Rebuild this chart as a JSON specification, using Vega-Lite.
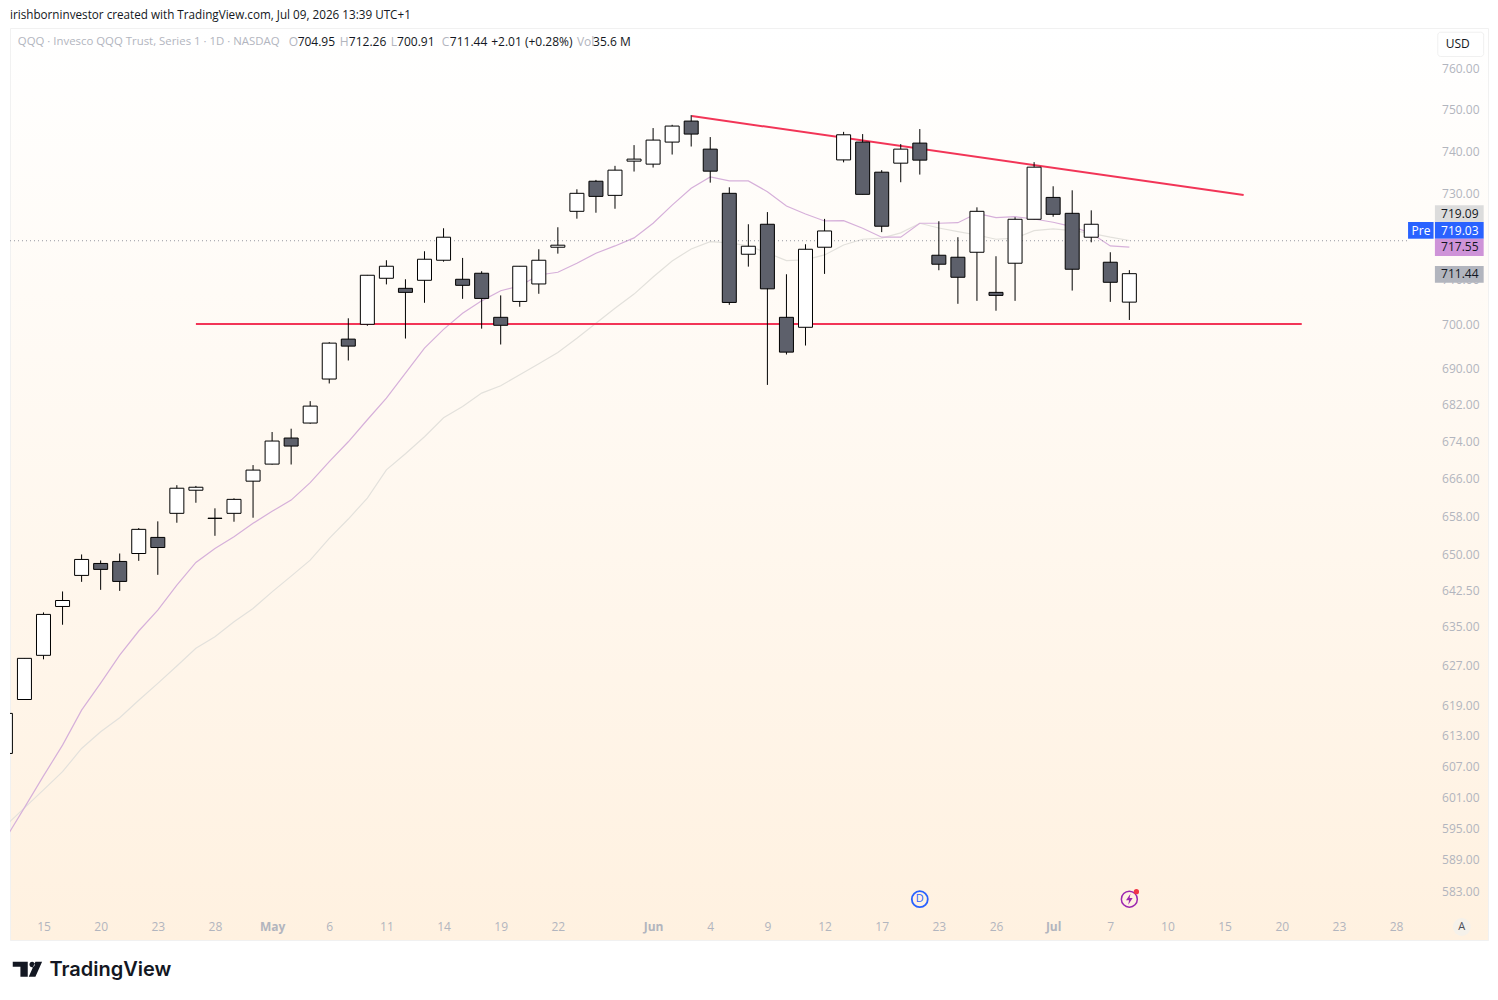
{"$schema":"https://vega.github.io/schema/vega-lite/v6.json","width":1478,"height":912,"autosize":"none","padding":{"left":10,"top":28,"right":10,"bottom":60},"background":"#ffffff","view":{"stroke":"#f1f1f1","fill":{"gradient":"linear","x1":0,"y1":0,"x2":0,"y2":1,"stops":[{"offset":0,"color":"#ffffff"},{"offset":1,"color":"#fff1e0"}]}},"title":{"text":"irishborninvestor created with TradingView.com, Jul 09, 2026 13:39 UTC+1","anchor":"start","frame":"group","offset":6,"font":"Open Sans","fontSize":11.7,"fontWeight":"normal","color":"#131722"},"config":{"font":"Open Sans","axis":{"grid":false,"domain":false,"ticks":false}},"datasets":{"candles":[
{"i":0,"date":"2026-04-13","open":609.56,"high":617.47,"low":609.56,"close":617.47,"fast":593.01,"slow":595.5},
{"i":1,"date":"2026-04-14","open":620.24,"high":628.52,"low":620.24,"close":628.52,"fast":599.02,"slow":598.96},
{"i":2,"date":"2026-04-15","open":629.13,"high":637.89,"low":628.32,"close":637.48,"fast":605.16,"slow":602.44},
{"i":3,"date":"2026-04-16","open":639.11,"high":642.21,"low":635.36,"close":640.34,"fast":611.19,"slow":605.99},
{"i":4,"date":"2026-04-17","open":645.54,"high":649.91,"low":644.2,"close":648.87,"fast":618.12,"slow":610.54},
{"i":5,"date":"2026-04-20","open":648.03,"high":648.66,"low":642.54,"close":646.79,"fast":623.53,"slow":613.82},
{"i":6,"date":"2026-04-21","open":648.45,"high":650.11,"low":642.33,"close":644.29,"fast":629.19,"slow":616.6},
{"i":7,"date":"2026-04-22","open":650.11,"high":655.46,"low":648.57,"close":655.19,"fast":634.08,"slow":620.1},
{"i":8,"date":"2026-04-23","open":653.49,"high":656.88,"low":645.66,"close":651.37,"fast":638.36,"slow":623.47},
{"i":9,"date":"2026-04-24","open":658.58,"high":664.58,"low":656.59,"close":663.93,"fast":643.52,"slow":626.97},
{"i":10,"date":"2026-04-27","open":663.5,"high":664.42,"low":660.83,"close":664.14,"fast":648.24,"slow":630.55},
{"i":11,"date":"2026-04-28","open":657.5,"high":659.64,"low":653.83,"close":657.55,"fast":651.16,"slow":632.91},
{"i":12,"date":"2026-04-29","open":658.58,"high":661.77,"low":656.8,"close":661.55,"fast":653.62,"slow":635.97},
{"i":13,"date":"2026-04-30","open":665.44,"high":668.9,"low":657.65,"close":667.82,"fast":656.46,"slow":638.71},
{"i":14,"date":"2026-05-01","open":669.11,"high":676.06,"low":669.0,"close":674.1,"fast":659.0,"slow":642.13},
{"i":15,"date":"2026-05-04","open":674.75,"high":676.78,"low":669.02,"close":673.01,"fast":661.4,"slow":645.39},
{"i":16,"date":"2026-05-05","open":678.02,"high":682.82,"low":677.87,"close":681.73,"fast":665.14,"slow":648.72},
{"i":17,"date":"2026-05-06","open":687.7,"high":695.92,"low":686.72,"close":695.7,"fast":669.65,"slow":653.28},
{"i":18,"date":"2026-05-07","open":696.6,"high":701.29,"low":691.82,"close":695.03,"fast":673.94,"slow":657.37},
{"i":19,"date":"2026-05-08","open":699.93,"high":711.15,"low":699.6,"close":711.08,"fast":678.74,"slow":661.83},
{"i":20,"date":"2026-05-11","open":710.39,"high":714.53,"low":708.99,"close":713.15,"fast":683.48,"slow":667.88},
{"i":21,"date":"2026-05-12","open":708.09,"high":710.16,"low":696.73,"close":707.17,"fast":689.03,"slow":671.33},
{"i":22,"date":"2026-05-13","open":709.93,"high":716.6,"low":704.8,"close":714.76,"fast":694.58,"slow":675.04},
{"i":23,"date":"2026-05-14","open":714.53,"high":721.93,"low":714.2,"close":719.85,"fast":698.8,"slow":679.18},
{"i":24,"date":"2026-05-15","open":710.16,"high":715.06,"low":705.7,"close":708.78,"fast":702.41,"slow":681.64},
{"i":25,"date":"2026-05-18","open":711.54,"high":712.0,"low":698.95,"close":705.79,"fast":705.24,"slow":684.59},
{"i":26,"date":"2026-05-19","open":701.51,"high":706.48,"low":695.39,"close":699.71,"fast":707.54,"slow":686.21},
{"i":27,"date":"2026-05-20","open":705.11,"high":713.2,"low":703.9,"close":713.15,"fast":708.62,"slow":688.65},
{"i":28,"date":"2026-05-21","open":709.09,"high":717.06,"low":706.85,"close":714.53,"fast":711.15,"slow":691.09},
{"i":29,"date":"2026-05-22","open":717.53,"high":722.16,"low":716.05,"close":718.0,"fast":711.77,"slow":693.6},
{"i":30,"date":"2026-05-26","open":725.88,"high":731.05,"low":724.16,"close":730.1,"fast":713.84,"slow":696.79},
{"i":31,"date":"2026-05-27","open":732.95,"high":733.26,"low":725.55,"close":729.38,"fast":716.14,"slow":700.16},
{"i":32,"date":"2026-05-28","open":729.62,"high":736.59,"low":726.48,"close":735.57,"fast":717.83,"slow":703.54},
{"i":33,"date":"2026-05-29","open":737.71,"high":741.53,"low":735.24,"close":738.19,"fast":719.69,"slow":706.78},
{"i":34,"date":"2026-06-01","open":737.0,"high":745.61,"low":736.19,"close":742.73,"fast":723.09,"slow":710.69},
{"i":35,"date":"2026-06-02","open":742.25,"high":746.4,"low":739.28,"close":746.09,"fast":727.34,"slow":714.37},
{"i":36,"date":"2026-06-03","open":747.29,"high":748.73,"low":741.19,"close":744.17,"fast":731.28,"slow":717.13},
{"i":37,"date":"2026-06-04","open":740.57,"high":743.45,"low":732.62,"close":735.33,"fast":733.97,"slow":718.82},
{"i":38,"date":"2026-06-05","open":730.1,"high":731.52,"low":704.34,"close":704.88,"fast":733.02,"slow":718.52},
{"i":39,"date":"2026-06-08","open":715.91,"high":722.86,"low":713.06,"close":717.76,"fast":733.02,"slow":717.83},
{"i":40,"date":"2026-06-09","open":722.86,"high":725.7,"low":686.4,"close":707.98,"fast":730.48,"slow":716.21},
{"i":41,"date":"2026-06-10","open":701.51,"high":711.31,"low":693.16,"close":693.69,"fast":727.11,"slow":714.44},
{"i":42,"date":"2026-06-11","open":699.26,"high":718.22,"low":695.16,"close":717.06,"fast":725.25,"slow":714.6},
{"i":43,"date":"2026-06-12","open":717.53,"high":724.11,"low":711.39,"close":721.3,"fast":723.63,"slow":715.75},
{"i":44,"date":"2026-06-15","open":738.0,"high":744.7,"low":737.42,"close":744.0,"fast":723.7,"slow":718.06},
{"i":45,"date":"2026-06-16","open":742.25,"high":744.17,"low":729.86,"close":729.86,"fast":721.93,"slow":719.38},
{"i":46,"date":"2026-06-17","open":735.09,"high":735.57,"low":721.03,"close":722.4,"fast":719.85,"slow":719.62},
{"i":47,"date":"2026-06-18","open":737.23,"high":741.77,"low":732.71,"close":740.57,"fast":719.85,"slow":720.85},
{"i":48,"date":"2026-06-22","open":742.01,"high":745.37,"low":734.52,"close":737.95,"fast":723.09,"slow":723.09},
{"i":49,"date":"2026-06-23","open":715.68,"high":723.56,"low":712.23,"close":713.61,"fast":723.09,"slow":721.99},
{"i":50,"date":"2026-06-24","open":715.22,"high":719.85,"low":704.57,"close":710.62,"fast":723.23,"slow":721.14},
{"i":51,"date":"2026-06-25","open":716.37,"high":726.81,"low":705.24,"close":725.88,"fast":725.41,"slow":720.37},
{"i":52,"date":"2026-06-26","open":707.17,"high":715.45,"low":703.0,"close":706.48,"fast":724.39,"slow":719.38},
{"i":53,"date":"2026-06-29","open":713.84,"high":724.49,"low":705.24,"close":724.02,"fast":724.63,"slow":719.62},
{"i":54,"date":"2026-06-30","open":724.02,"high":737.47,"low":724.02,"close":736.28,"fast":724.09,"slow":721.37},
{"i":55,"date":"2026-07-01","open":729.14,"high":731.76,"low":724.62,"close":725.18,"fast":723.33,"slow":721.77},
{"i":56,"date":"2026-07-02","open":725.41,"high":730.81,"low":707.58,"close":712.46,"fast":722.31,"slow":721.37},
{"i":57,"date":"2026-07-06","open":719.85,"high":726.11,"low":718.67,"close":722.86,"fast":720.78,"slow":720.76},
{"i":58,"date":"2026-07-07","open":714.07,"high":716.37,"low":705.01,"close":709.47,"fast":717.83,"slow":719.85},
{"i":59,"date":"2026-07-08","open":704.95,"high":712.26,"low":700.91,"close":711.44,"fast":717.55,"slow":719.09}
],
"drawn":[{"id":"support","i":10,"p":700},{"id":"support","i":68.05,"p":700},{"id":"resistance","i":36.03,"p":748.5},{"id":"resistance","i":65.0,"p":729.7}],
"tags":[{"name":"prev","i":75.04,"i1":77.6,"p0":727.29,"p1":723.39},{"name":"pre","i":75.04,"i1":77.6,"p0":723.39,"p1":719.5},{"name":"pre","i":73.63,"i1":74.97,"p0":723.39,"p1":719.5},{"name":"ma","i":75.04,"i1":77.6,"p0":719.5,"p1":715.5},{"name":"last","i":75.04,"i1":77.6,"p0":713.21,"p1":709.38}],
"tagText":[{"t":"719.09","i":77.33,"p":725.3,"kind":"dark"},{"t":"719.03","i":77.33,"p":721.4,"kind":"light"},{"t":"717.55","i":77.33,"p":717.5,"kind":"dark"},{"t":"711.44","i":77.33,"p":711.3,"kind":"dark"}],
"legendText":[{"t":"QQQ · Invesco QQQ Trust, Series 1 · 1D · NASDAQ","i":0.65,"p":766.6,"kind":"name"},{"t":"O","i":14.87,"p":766.6,"kind":"label"},{"t":"704.95","i":15.34,"p":766.6,"kind":"value"},{"t":"H","i":17.55,"p":766.6,"kind":"label"},{"t":"712.26","i":18.03,"p":766.6,"kind":"value"},{"t":"L","i":20.23,"p":766.6,"kind":"label"},{"t":"700.91","i":20.56,"p":766.6,"kind":"value"},{"t":"C","i":22.9,"p":766.6,"kind":"label"},{"t":"711.44","i":23.33,"p":766.6,"kind":"value"},{"t":"+2.01 (+0.28%)","i":25.5,"p":766.6,"kind":"value"},{"t":"Vol","i":30.0,"p":766.6,"kind":"label"},{"t":"35.6 M","i":30.85,"p":766.6,"kind":"value"}]
},"encoding":{"x":{"field":"i","type":"quantitative","scale":{"domain":[0.2415,77.827],"nice":false,"zero":false,"padding":0},"axis":{"orient":"bottom","values":[2,5,8,11,14,17,20,23,26,29,34,37,40,43,46,49,52,55,58,61,64,67,70,73],"labelExpr":"({'2':'15','5':'20','8':'23','11':'28','14':'May','17':'6','20':'11','23':'14','26':'19','29':'22','34':'Jun','37':'4','40':'9','43':'12','46':'17','49':'23','52':'26','55':'Jul','58':'7','61':'10','64':'15','67':'20','70':'23','73':'28'})[datum.value]","labelBaseline":"middle","labelPadding":-14,"labelFontSize":12,"labelColor":"#b2b5be","labelOverlap":false,"labelBound":false,"labelFlush":false,"labelFontWeight":{"condition":{"test":"datum.value==14||datum.value==34||datum.value==55","value":"bold"},"value":"normal"},"title":"TradingView","titleAnchor":"start","titleAlign":"left","titleX":39,"titleY":35,"titleBaseline":"alphabetic","titleFont":"Inter","titleFontSize":20,"titleFontWeight":600,"titleColor":"#131722"}}},"layer":[
{"data":{"name":"candles"},"mark":{"type":"line","clip":true,"color":"#e3e1dc","strokeWidth":1.2},"encoding":{"y":{"field":"slow","type":"quantitative","scale":{"type":"log","domain":[574,770.04],"nice":false,"zero":false},"axis":{"orient":"right","values":[583,589,595,601,607,613,619,627,635,642.5,650,658,666,674,682,690,700,710,730,740,750,760],"format":".2f","labelAlign":"right","labelPadding":-9,"labelFontSize":12,"labelColor":"#b2b5be","labelOverlap":false,"labelBound":false,"labelFlush":false,"title":null}}}},
{"data":{"name":"candles"},"mark":{"type":"line","clip":true,"color":"#d6b0da","strokeWidth":1.2},"encoding":{"y":{"field":"fast","type":"quantitative"}}},
{"data":{"values":[{"i":0.2415,"i1":73.63,"p":719.03}]},"mark":{"type":"rule","strokeDash":[1,3],"color":"#9598a1","strokeWidth":1},"encoding":{"x2":{"field":"i1"},"y":{"field":"p","type":"quantitative"}}},
{"data":{"name":"drawn"},"mark":{"type":"line","color":"#f23557","strokeWidth":2},"encoding":{"y":{"field":"p","type":"quantitative"},"detail":{"field":"id"}}},
{"data":{"name":"candles"},"mark":{"type":"rule","clip":true,"color":"#000000","strokeWidth":1},"encoding":{"y":{"field":"low","type":"quantitative"},"y2":{"field":"high"}}},
{"data":{"name":"candles"},"mark":{"type":"bar","clip":true,"size":14,"stroke":"#000000","strokeWidth":1,"orient":"vertical"},"encoding":{"y":{"field":"open","type":"quantitative"},"y2":{"field":"close"},"fill":{"condition":{"test":"datum.close<datum.open","value":"#5d606b"},"value":"#ffffff"}}},
{"data":{"values":[{"i":48.0,"p":581.6}]},"mark":{"type":"point","shape":"circle","size":254,"filled":false,"stroke":"#2962ff","strokeWidth":1.8,"opacity":1},"encoding":{"y":{"field":"p","type":"quantitative"}}},
{"data":{"values":[{"i":48.0,"p":581.6,"t":"D"}]},"mark":{"type":"text","fontSize":11,"color":"#2962ff","align":"center","baseline":"middle"},"encoding":{"y":{"field":"p","type":"quantitative"},"text":{"field":"t"}}},
{"data":{"values":[{"i":59.0,"p":581.6}]},"mark":{"type":"point","shape":"circle","size":254,"filled":false,"stroke":"#9c27b0","strokeWidth":1.5,"opacity":1},"encoding":{"y":{"field":"p","type":"quantitative"}}},
{"data":{"values":[{"i":59.0,"p":581.6}]},"mark":{"type":"point","filled":true,"fill":"#9c27b0","size":121,"opacity":1,"stroke":null,"shape":"M0.2 -1L-0.6 0.2L-0.05 0.2L-0.2 1L0.6 -0.2L0.05 -0.2Z"},"encoding":{"y":{"field":"p","type":"quantitative"}}},
{"data":{"values":[{"i":59.37,"p":583.0}]},"mark":{"type":"point","shape":"circle","filled":true,"fill":"#f23645","size":28,"opacity":1},"encoding":{"y":{"field":"p","type":"quantitative"}}},
{"data":{"values":[{"i":76.45,"p":576.4}]},"mark":{"type":"point","shape":"circle","filled":true,"fill":"#f5f1ea","size":320,"opacity":1},"encoding":{"y":{"field":"p","type":"quantitative"}}},
{"data":{"values":[{"i":76.45,"p":576.4,"t":"A"}]},"mark":{"type":"text","fontSize":11,"color":"#4a4e59","align":"center","baseline":"middle"},"encoding":{"y":{"field":"p","type":"quantitative"},"text":{"field":"t"}}},
{"data":{"values":[{"i":75.19,"i1":77.6,"p0":769,"p1":763}]},"mark":{"type":"rect","fill":"#ffffff","stroke":"#f0f0f0","cornerRadius":3},"encoding":{"x2":{"field":"i1"},"y":{"field":"p0","type":"quantitative"},"y2":{"field":"p1"}}},
{"data":{"values":[{"i":76.24,"p":766.1,"t":"USD"}]},"mark":{"type":"text","fontSize":12,"color":"#131722","align":"center","baseline":"middle"},"encoding":{"y":{"field":"p","type":"quantitative"},"text":{"field":"t"}}},
{"data":{"name":"tags"},"mark":{"type":"rect"},"encoding":{"x2":{"field":"i1"},"y":{"field":"p0","type":"quantitative"},"y2":{"field":"p1"},"fill":{"field":"name","type":"nominal","legend":null,"scale":{"domain":["prev","pre","ma","last"],"range":["#dcdcdc","#2962ff","#ce93d8","#b2b5be"]}}}},
{"data":{"name":"tagText"},"mark":{"type":"text","fontSize":12,"align":"right","baseline":"middle"},"encoding":{"y":{"field":"p","type":"quantitative"},"text":{"field":"t"},"color":{"condition":{"test":"datum.kind==='light'","value":"#ffffff"},"value":"#131722"}}},
{"data":{"values":[{"i":74.31,"p":721.4,"t":"Pre"}]},"mark":{"type":"text","fontSize":12,"color":"#ffffff","align":"center","baseline":"middle"},"encoding":{"y":{"field":"p","type":"quantitative"},"text":{"field":"t"}}},
{"data":{"name":"legendText"},"mark":{"type":"text","align":"left","baseline":"middle"},"encoding":{"y":{"field":"p","type":"quantitative"},"text":{"field":"t"},"size":{"condition":{"test":"datum.kind==='name'","value":11.4},"value":12},"color":{"condition":{"test":"datum.kind!=='value'","value":"#b2b5be"},"value":"#131722"}}},
{"data":{"values":[{"i":1.156,"p":568.6}]},"mark":{"type":"point","filled":true,"fill":"#131722","size":900,"opacity":1,"shape":"M-0.978 -0.5L0.022 -0.5L0.022 0.5L-0.467 0.5L-0.467 -0.167L-0.978 -0.167ZM0.133 -0.322a0.178 0.178 0 1 0 0.356 0a0.178 0.178 0 1 0 -0.356 0ZM0.533 -0.5L0.978 -0.5L0.533 0.5L0.089 0.5Z"},"encoding":{"y":{"field":"p","type":"quantitative"}}}
],"resolve":{"scale":{"fill":"independent"}}}
